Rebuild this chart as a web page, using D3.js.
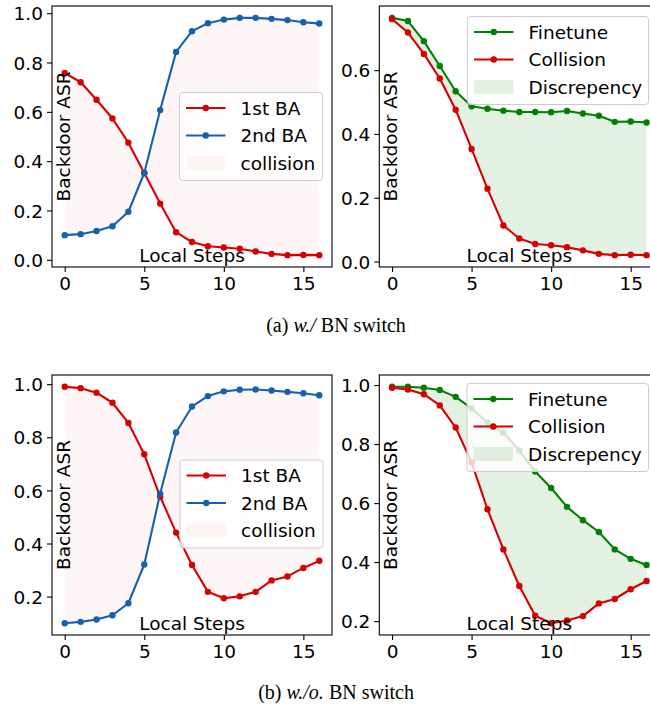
<!DOCTYPE html>
<html><head><meta charset="utf-8">
<script src="https://cdn.jsdelivr.net/npm/d3@7"></script>
<style>body{margin:0;background:#fff}</style>
</head><body>
<svg id="chart" width="650" height="709"></svg>
<script>
// ---------- data ----------
const steps = [0,1,2,3,4,5,6,7,8,9,10,11,12,13,14,15,16];
const xTicks = [0,5,10,15];

// (a) w./ BN switch
const aFirstBA  = [0.758,0.720,0.649,0.573,0.475,0.352,0.228,0.112,0.072,0.055,0.050,0.045,0.034,0.024,0.019,0.020,0.019];
const aSecondBA = [0.100,0.104,0.117,0.136,0.195,0.352,0.607,0.843,0.927,0.959,0.974,0.981,0.981,0.977,0.972,0.963,0.958];
const aFinetune = [0.764,0.754,0.691,0.613,0.534,0.487,0.479,0.473,0.469,0.469,0.468,0.472,0.464,0.457,0.438,0.439,0.436];
const aCollision= [0.760,0.718,0.651,0.574,0.476,0.353,0.228,0.113,0.072,0.055,0.051,0.045,0.035,0.024,0.020,0.021,0.020];

// (b) w./o. BN switch
const bFirstBA  = [0.990,0.985,0.968,0.930,0.854,0.736,0.576,0.441,0.319,0.218,0.194,0.201,0.218,0.261,0.276,0.308,0.335];
const bSecondBA = [0.100,0.105,0.114,0.130,0.175,0.321,0.588,0.818,0.916,0.955,0.973,0.979,0.980,0.976,0.971,0.966,0.958];
const bFinetune = [0.994,0.994,0.991,0.983,0.960,0.921,0.873,0.839,0.778,0.707,0.651,0.587,0.542,0.502,0.443,0.411,0.390];
const bCollision= [0.991,0.985,0.969,0.931,0.856,0.738,0.579,0.443,0.319,0.218,0.193,0.202,0.217,0.260,0.275,0.308,0.336];

const yTicksAL = [0.0,0.2,0.4,0.6,0.8,1.0];
const yTicksAR = [0.0,0.2,0.4,0.6];
const yTicksBL = [0.2,0.4,0.6,0.8,1.0];
const yTicksBR = [0.2,0.4,0.6,0.8,1.0];

const labelsLeft  = ["1st BA","2nd BA","collision"];
const labelsRight = ["Finetune","Collision","Discrepency"];
const xLabel = "Local Steps";
const yLabel = "Backdoor ASR";

// ---------- style ----------
const RED = "#d60000", BLUE = "#1660b0", GREEN = "#008000";
const FONT = "DejaVu Sans", FS = 18.5;
const svg = d3.select("#chart");

function panel(cfg) {
  const x = d3.scaleLinear().domain([-0.8, 16.8]).range([cfg.left, cfg.left + 280]);
  const all = cfg.series.flatMap(s => s.values);
  const [mn, mx] = d3.extent(all);
  const pad = (mx - mn) * 0.05;
  const y = d3.scaleLinear().domain([mn - pad, mx + pad]).range([cfg.bottom, cfg.top]);
  const g = svg.append("g");

  // fill between
  const f = cfg.fill;
  g.append("path")
    .datum(steps)
    .attr("d", d3.area().x(i => x(i)).y0(i => y(f.a[i])).y1(i => y(f.b[i])))
    .attr("fill", f.color).attr("fill-opacity", f.opacity).attr("stroke", "none");

  // lines + markers
  cfg.series.forEach(s => {
    g.append("path").datum(steps)
      .attr("d", d3.line().x(i => x(i)).y(i => y(s.values[i])))
      .attr("fill", "none").attr("stroke", s.color).attr("stroke-width", 2.1)
      .attr("stroke-linejoin", "round").attr("stroke-linecap", "square");
    g.selectAll(null).data(steps).enter().append("circle")
      .attr("cx", i => x(i)).attr("cy", i => y(s.values[i])).attr("r", 3.2)
      .attr("fill", s.color);
  });

  // spines
  g.append("rect").attr("x", cfg.left).attr("y", cfg.top)
    .attr("width", 280).attr("height", cfg.bottom - cfg.top)
    .attr("fill", "none").attr("stroke", "#000").attr("stroke-width", 1.1);

  // axes
  const xa = g.append("g").attr("transform", `translate(0,${cfg.bottom})`)
    .call(d3.axisBottom(x).tickValues(xTicks).tickSize(5).tickPadding(4).tickFormat(d3.format("d")));
  const ya = g.append("g").attr("transform", `translate(${cfg.left},0)`)
    .call(d3.axisLeft(y).tickValues(cfg.yTicks).tickSize(5).tickPadding(4).tickFormat(d3.format(".1f")));
  [xa, ya].forEach(a => {
    a.select(".domain").remove();
    a.selectAll("line").attr("stroke", "#000").attr("stroke-width", 1.1);
    a.selectAll("text").attr("font-family", FONT).attr("font-size", FS).attr("fill", "#000");
  });
  xa.selectAll("text").attr("dy", null).attr("y", 23);
  ya.selectAll("text").attr("dy", "0.36em");

  // axis labels (inside)
  g.append("text").attr("x", cfg.left + 140).attr("y", cfg.bottom - 5)
    .attr("text-anchor", "middle").attr("font-family", FONT).attr("font-size", FS).text(xLabel);
  g.append("text")
    .attr("transform", `translate(${cfg.left + 17.5},${(cfg.top + cfg.bottom) / 2}) rotate(-90)`)
    .attr("text-anchor", "middle").attr("font-family", FONT).attr("font-size", FS).text(yLabel);

  // legend
  const L = cfg.legend;
  const lg = g.append("g").attr("transform", `translate(${L.x},${L.y})`);
  lg.append("rect").attr("width", L.w).attr("height", 88).attr("rx", 3)
    .attr("fill", "#fff").attr("fill-opacity", 0.8).attr("stroke", "#cccccc").attr("stroke-width", 1);
  const rows = [15.5, 43, 70.5];
  cfg.series.forEach((s, k) => {
    lg.append("line").attr("x1", 6.5).attr("x2", 46).attr("y1", rows[k]).attr("y2", rows[k])
      .attr("stroke", s.color).attr("stroke-width", 2.1);
    lg.append("circle").attr("cx", 26.25).attr("cy", rows[k]).attr("r", 3.2).attr("fill", s.color);
    lg.append("text").attr("x", 61).attr("y", rows[k]).attr("dy", "0.36em")
      .attr("font-family", FONT).attr("font-size", FS).text(s.label);
  });
  lg.append("rect").attr("x", 6.5).attr("y", rows[2] - 7).attr("width", 39.5).attr("height", 14)
    .attr("fill", f.color).attr("fill-opacity", f.opacity);
  lg.append("text").attr("x", 61).attr("y", rows[2]).attr("dy", "0.36em")
    .attr("font-family", FONT).attr("font-size", FS).text(f.label);
}

panel({left: 52, top: 6, bottom: 267, yTicks: yTicksAL,
  series: [{values: aFirstBA, color: RED, label: labelsLeft[0]}, {values: aSecondBA, color: BLUE, label: labelsLeft[1]}],
  fill: {a: aFirstBA, b: aSecondBA, color: RED, opacity: 0.035, label: labelsLeft[2]},
  legend: {x: 179.5, y: 92.5, w: 143}});
panel({left: 379.3, top: 6, bottom: 267, yTicks: yTicksAR,
  series: [{values: aFinetune, color: GREEN, label: labelsRight[0]}, {values: aCollision, color: RED, label: labelsRight[1]}],
  fill: {a: aFinetune, b: aCollision, color: GREEN, opacity: 0.11, label: labelsRight[2]},
  legend: {x: 467.5, y: 16.5, w: 181}});
panel({left: 52, top: 375, bottom: 635, yTicks: yTicksBL,
  series: [{values: bFirstBA, color: RED, label: labelsLeft[0]}, {values: bSecondBA, color: BLUE, label: labelsLeft[1]}],
  fill: {a: bFirstBA, b: bSecondBA, color: RED, opacity: 0.035, label: labelsLeft[2]},
  legend: {x: 180, y: 460, w: 143}});
panel({left: 379.3, top: 375, bottom: 635, yTicks: yTicksBR,
  series: [{values: bFinetune, color: GREEN, label: labelsRight[0]}, {values: bCollision, color: RED, label: labelsRight[1]}],
  fill: {a: bFinetune, b: bCollision, color: GREEN, opacity: 0.11, label: labelsRight[2]},
  legend: {x: 467, y: 383.5, w: 181.5}});

// captions
function caption(y, parts) {
  const t = svg.append("text").attr("x", 336).attr("y", y).attr("text-anchor", "middle")
    .attr("font-family", "Liberation Serif").attr("font-size", 20).attr("fill", "#000");
  parts.forEach(p => t.append("tspan").attr("font-style", p[1] ? "italic" : "normal").text(p[0]));
}
caption(332, [["(a) ", false], ["w./", true], [" BN switch", false]]);
caption(699, [["(b) ", false], ["w./o.", true], [" BN switch", false]]);
</script>
</body></html>
